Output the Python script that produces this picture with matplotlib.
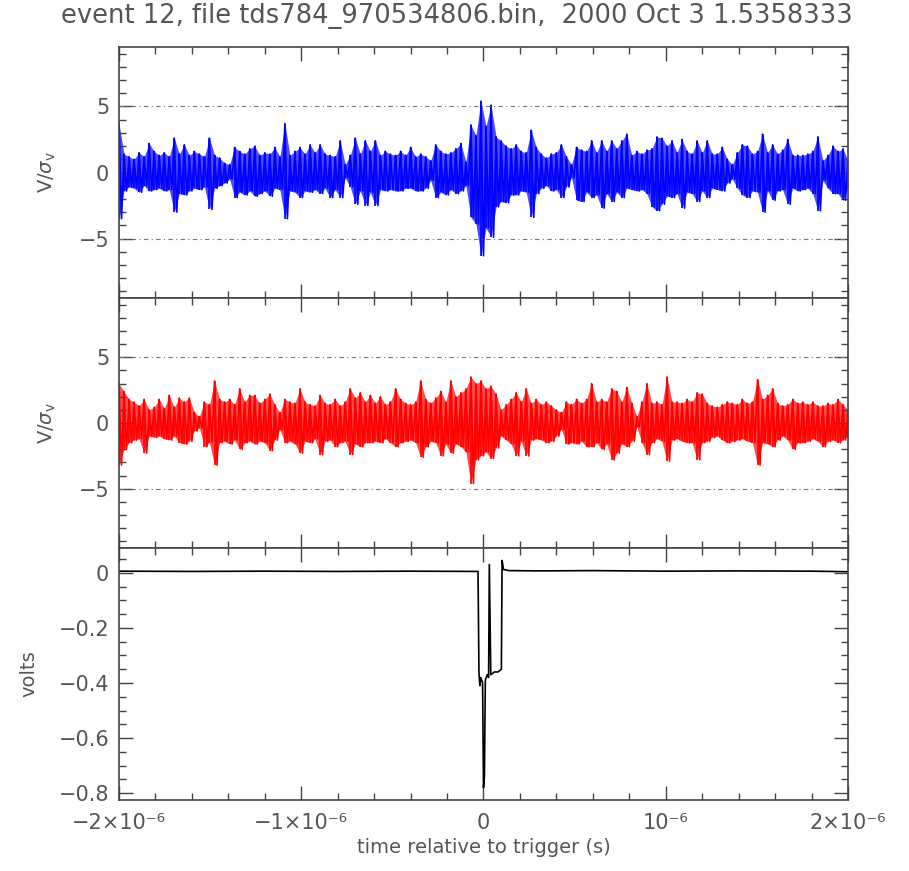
import numpy as np
import matplotlib
matplotlib.use("Agg")
import matplotlib.pyplot as plt
from matplotlib.ticker import MultipleLocator, FixedLocator, FixedFormatter

# channel 1 (blue), V/sigma: upper and lower excursion per time slot
ch1_hi = [3.7, 1.4, 1.2, 1.0, 1.5, 1.2, 2.2, 1.6, 1.3, 1.5, 1.2, 2.6, 1.4, 2.1, 1.3, 1.6, 1.4, 1.2, 2.6, 1.3,
          1.1, 0.7, 0.6, 1.9, 1.6, 1.4, 1.8, 2.0, 1.3, 1.5, 1.4, 1.9, 1.2, 3.7, 1.3, 1.6, 1.9, 1.4, 2.1, 1.5,
          2.1, 1.4, 1.3, 1.2, 2.4, 0.6, 1.3, 2.6, 1.4, 2.4, 1.6, 2.4, 1.3, 1.6, 1.4, 1.3, 1.6, 1.3, 1.9, 1.2,
          1.4, 1.2, 0.9, 2.1, 1.6, 1.4, 1.5, 1.8, 2.2, 0.8, 3.6, 2.8, 5.4, 3.5, 5.1, 2.7, 2.4, 2.0, 1.8, 2.1,
          1.6, 1.5, 3.2, 1.9, 1.4, 1.1, 1.4, 1.5, 2.1, 1.2, 0.6, 1.9, 1.7, 1.6, 2.4, 1.5, 2.4, 1.6, 2.4, 1.8,
          2.4, 2.9, 1.3, 1.6, 1.4, 1.7, 1.8, 2.7, 2.6, 2.0, 2.4, 1.5, 2.5, 1.6, 1.4, 2.4, 1.5, 2.4, 1.4, 1.4,
          1.9, 1.0, 0.6, 1.5, 2.1, 2.0, 1.4, 1.6, 2.9, 1.5, 2.1, 1.4, 1.7, 2.5, 1.3, 1.3, 1.3, 1.4, 1.6, 2.7,
          0.9, 1.3, 2.0, 1.6, 1.8, 0.9]
ch1_lo = [-3.5, -1.4, -1.1, -1.2, -1.5, -1.0, -1.4, -1.3, -1.2, -1.4, -1.3, -3.0, -1.6, -1.7, -1.4, -1.2, -1.3, -1.1, -2.8, -1.2,
          -1.0, -0.8, -0.5, -1.9, -1.5, -1.7, -1.4, -1.8, -1.6, -1.4, -1.8, -1.2, -1.3, -3.5, -1.4, -1.5, -1.9, -1.4, -1.5, -1.3,
          -1.6, -1.2, -1.9, -1.3, -1.9, -0.4, -1.1, -2.4, -1.4, -2.5, -1.5, -2.5, -1.3, -1.4, -1.3, -1.4, -1.4, -1.2, -1.2, -1.4,
          -1.4, -1.2, -0.6, -1.9, -1.5, -1.7, -1.3, -1.6, -1.4, -1.0, -3.4, -3.9, -6.3, -4.2, -4.9, -2.6, -2.2, -2.3, -1.7, -1.7,
          -1.4, -1.5, -3.4, -1.6, -1.2, -1.0, -1.4, -1.3, -1.9, -1.1, -0.4, -2.1, -2.2, -1.5, -1.9, -1.7, -2.7, -1.6, -2.2, -1.5,
          -1.9, -1.2, -1.3, -1.4, -1.3, -1.6, -2.6, -2.9, -2.4, -1.8, -1.9, -1.6, -2.7, -1.5, -1.6, -2.2, -1.4, -1.9, -1.2, -1.3,
          -1.4, -0.8, -0.5, -1.2, -1.7, -1.9, -1.4, -1.5, -3.0, -1.4, -2.1, -1.4, -1.3, -2.4, -1.2, -1.4, -1.3, -1.2, -1.6, -2.9,
          -0.6, -1.2, -1.6, -1.6, -2.1, -1.1]

# channel 2 (red), V/sigma
ch2_hi = [3.0, 2.4, 1.8, 1.6, 1.3, 1.8, 1.0, 1.2, 1.8, 1.1, 2.1, 1.2, 1.9, 1.6, 1.9, 0.8, 0.5, 1.6, 1.4, 3.2,
          1.8, 1.6, 1.8, 1.4, 2.6, 1.6, 2.1, 2.1, 1.5, 1.8, 2.2, 1.4, 0.8, 1.8, 1.6, 1.5, 2.6, 1.6, 1.4, 1.3,
          2.1, 1.5, 1.4, 1.8, 1.3, 1.6, 2.6, 1.9, 2.3, 1.6, 2.1, 1.5, 2.0, 1.4, 1.6, 2.6, 1.8, 1.5, 1.4, 1.6,
          3.2, 1.8, 1.5, 1.9, 2.4, 1.6, 3.2, 2.0, 2.3, 2.6, 3.5, 3.0, 3.2, 2.6, 2.8, 2.2, 1.0, 1.4, 1.8, 2.3,
          1.6, 2.6, 1.5, 1.8, 1.4, 1.6, 1.3, 1.0, 0.8, 1.6, 1.4, 1.8, 1.5, 1.8, 3.0, 1.6, 1.8, 1.6, 2.6, 2.4,
          1.6, 2.7, 1.5, 0.5, 1.6, 3.0, 1.5, 1.6, 1.4, 3.5, 1.6, 1.6, 1.5, 1.8, 1.6, 2.3, 2.2, 1.5, 1.3, 1.2,
          1.4, 1.6, 1.5, 1.4, 1.8, 1.5, 1.6, 3.3, 1.8, 2.1, 2.6, 1.5, 1.3, 1.4, 1.8, 1.5, 1.6, 1.4, 1.6, 1.3,
          1.3, 1.5, 1.4, 1.8, 1.4, 1.0]
ch2_lo = [-3.2, -2.0, -1.5, -1.3, -1.2, -2.3, -1.0, -1.1, -1.0, -1.2, -1.3, -1.0, -1.5, -1.6, -1.4, -0.6, -0.4, -1.8, -1.5, -3.2,
          -1.5, -1.4, -1.6, -1.3, -2.0, -1.5, -1.4, -1.6, -1.4, -1.5, -2.1, -1.3, -0.5, -1.5, -1.4, -1.6, -2.3, -1.4, -1.5, -1.2,
          -2.4, -1.4, -1.3, -1.8, -1.5, -1.4, -2.4, -1.6, -1.8, -1.5, -1.5, -1.4, -1.5, -1.2, -1.5, -1.8, -1.5, -1.4, -1.3, -1.5,
          -2.6, -1.8, -1.4, -1.5, -2.5, -1.6, -2.3, -1.6, -1.8, -2.2, -4.6, -2.8, -2.5, -2.2, -2.7, -1.9, -1.0, -1.3, -1.6, -2.5,
          -1.4, -2.5, -1.3, -1.2, -1.3, -1.5, -1.4, -1.0, -0.5, -1.6, -1.5, -1.6, -1.4, -1.8, -1.8, -1.5, -2.0, -1.6, -2.8, -2.3,
          -1.6, -1.8, -1.4, -0.3, -1.5, -2.4, -1.5, -1.2, -1.4, -2.9, -1.3, -1.2, -1.4, -1.5, -1.5, -2.8, -1.5, -1.4, -1.1, -1.0,
          -1.3, -1.5, -1.4, -1.3, -1.2, -1.4, -1.5, -3.2, -1.5, -1.6, -1.8, -1.3, -1.0, -1.3, -2.0, -1.5, -1.5, -1.4, -1.2, -1.4,
          -1.8, -1.4, -1.3, -1.5, -1.3, -1.0]

# trigger channel, volts vs time (microseconds)
trig_t = [-2.0, -1.6, -1.2, -0.8, -0.4, -0.03, -0.025, -0.02, -0.015, -0.005, 0.0, 0.005, 0.01, 0.02,
          0.028, 0.032, 0.04, 0.06, 0.08, 0.098, 0.102, 0.11, 0.14, 0.3, 0.6, 1.0, 1.4, 1.8, 2.0]
trig_v = [0.006, 0.005, 0.006, 0.005, 0.006, 0.005, -0.36, -0.41, -0.38, -0.40, -0.78, -0.74, -0.39, -0.37,
          -0.38, 0.03, -0.37, -0.36, -0.36, -0.35, 0.045, 0.012, 0.008, 0.007, 0.008, 0.006, 0.007, 0.006, 0.004]

title = "event 12, file tds784_970534806.bin,  2000 Oct 3 1.5358333"
xticks = [-2e-6, -1e-6, 0, 1e-6, 2e-6]
xticklabels = ["\u22122\u00d710\u207b\u2076", "\u22121\u00d710\u207b\u2076", "0",
               "10\u207b\u2076", "2\u00d710\u207b\u2076"]

GRAY = '#555555'
plt.rcParams['font.family'] = 'DejaVu Sans'


def style_axes(ax, show_x):
    ax.set_xlim(-2e-6, 2e-6)
    ax.xaxis.set_major_locator(FixedLocator(xticks))
    ax.xaxis.set_minor_locator(MultipleLocator(0.2e-6))
    ax.tick_params(which='both', direction='in', top=True, right=True,
                   color='#444444', labelcolor=GRAY, labelsize=15, width=1)
    ax.tick_params(which='major', length=10, pad=7)
    ax.tick_params(which='minor', length=5)
    for s in ax.spines.values():
        s.set_color('#444444')
        s.set_linewidth(1.2)
    if show_x:
        ax.xaxis.set_major_formatter(FixedFormatter(xticklabels))
        ax.tick_params(axis='x', pad=9)
    else:
        ax.tick_params(axis='x', labelbottom=False)


# noise trace: light fill between the excursions, zigzag on top for texture
def noise_panel(ax, hi, lo, color):
    t = np.linspace(-2e-6, 2e-6, len(hi))
    half = (t[1] - t[0]) / 2
    ax.fill_between(t, lo, hi, color=color, alpha=0.7, lw=0)
    tt = np.column_stack([t, t + half]).ravel()
    vv = np.column_stack([hi, lo]).ravel()
    ax.plot(tt, vv, color=color, lw=1.2)
    ax.vlines(t, lo, hi, color=color, lw=1.2)
    for y in (5, -5):
        ax.axhline(y, color='#777777', lw=0.8, linestyle=(0, (4, 3, 1, 3)))
    ax.set_ylim(-9.5, 9.5)
    ax.yaxis.set_major_locator(MultipleLocator(5))
    ax.yaxis.set_minor_locator(MultipleLocator(1))
    ax.yaxis.set_major_formatter(lambda v, p: f"{v:g}".replace('-', '\u2212'))
    ax.set_ylabel(r'V/$\sigma_{\rm v}$', color=GRAY, fontsize=14)
    ax.yaxis.set_label_coords(-0.084, 0.5)
    style_axes(ax, False)


fig = plt.figure(figsize=(9.09, 8.71), dpi=100)
ax1 = fig.add_axes([0.1309, 0.6579, 0.802, 0.2881])
ax2 = fig.add_axes([0.1309, 0.3708, 0.802, 0.2871])
ax3 = fig.add_axes([0.1309, 0.0815, 0.802, 0.2893])

noise_panel(ax1, ch1_hi, ch1_lo, 'blue')
noise_panel(ax2, ch2_hi, ch2_lo, 'red')

ax3.plot(np.array(trig_t) * 1e-6, trig_v, color='black', lw=1.2)
ax3.set_ylim(-0.825, 0.09)
ax3.yaxis.set_major_locator(MultipleLocator(0.2))
ax3.yaxis.set_minor_locator(MultipleLocator(0.05))
ax3.yaxis.set_major_formatter(lambda v, p: ("0" if abs(v) < 1e-9 else f"{v:.1f}").replace('-', '\u2212'))
ax3.set_ylabel('volts', color=GRAY, fontsize=14)
ax3.yaxis.set_label_coords(-0.111, 0.5)
style_axes(ax3, True)
ax3.set_xlabel('time relative to trigger (s)', color=GRAY, fontsize=14, labelpad=4)

fig.text(0.503, 0.982, title, ha='center', va='center', color=GRAY, fontsize=18.5)

fig.savefig('out.png', dpi=100)
